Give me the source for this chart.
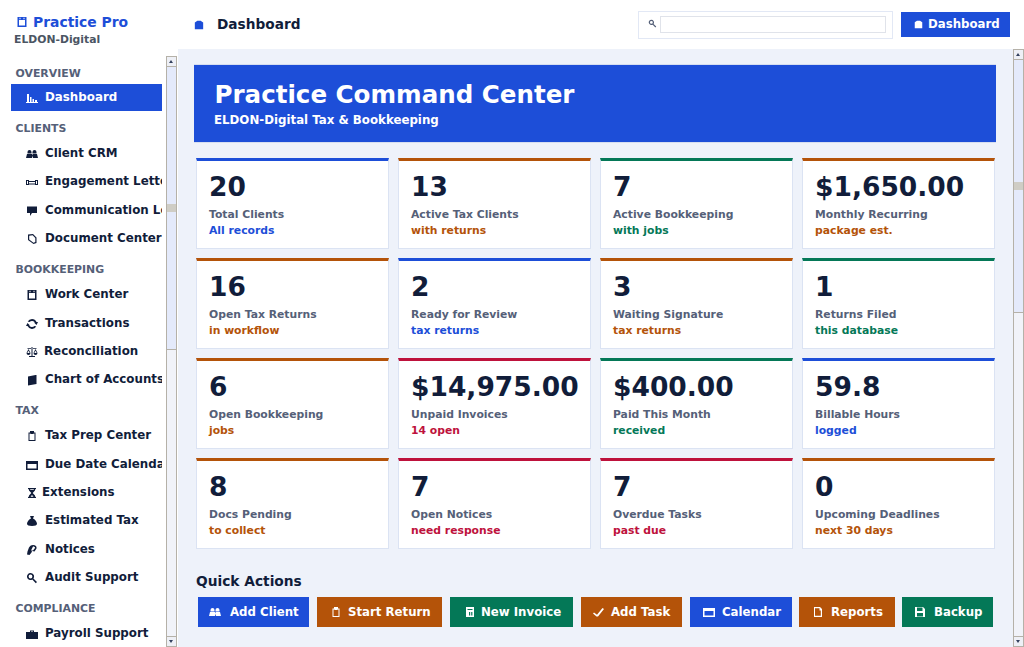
<!DOCTYPE html>
<html><head><meta charset="utf-8">
<script src="https://cdn.jsdelivr.net/npm/chart.js@4/dist/chart.umd.min.js"></script>
<style>
*{box-sizing:border-box}
html,body{margin:0;width:1024px;height:647px;overflow:hidden;background:#fff;font-family:"DejaVu Sans",sans-serif;font-weight:700;color:#111d3a}
.a{position:absolute}
svg{fill:currentColor;display:block}
#brand{left:33px;top:13px;font-size:13.9px;color:#1d4ed8;line-height:18px;white-space:nowrap}
#org{left:14px;top:33px;font-size:10.8px;color:#4b5563;line-height:14px}
#nav{left:0;top:66px;width:162px;height:581px;overflow:hidden}
.h{height:15px;line-height:15px;font-size:10.9px;color:#556078;padding-left:15.5px;margin:9.7px 0 3.15px}
.h:first-child{margin-top:0}
.i{position:relative;height:28.35px;line-height:29px;margin-left:11px;width:151px;font-size:11.85px;white-space:nowrap;overflow:hidden}
.i.on{background:#1d4ed8;color:#fff;height:27px;line-height:27px;margin-bottom:1.35px}
.i svg{position:absolute;left:14.5px;top:9px}
.i.on svg{top:8px}
#bg{left:178px;top:49px;width:846px;height:598px;background:#eef2fa}
#hero{left:194px;top:64px;width:802px;height:79px;background:#1d4ed8;color:#fff;border-top:1px solid #d6def0;border-bottom:1px solid #d6def0}
#hero h1{position:absolute;left:20.5px;top:15px;margin:0;font-size:24.55px;line-height:30px;white-space:nowrap}
#hero p{position:absolute;left:20px;top:47px;margin:0;font-size:11.8px;line-height:16px;white-space:nowrap}
.c{width:193px;height:91px;background:#fff;border:1px solid #dbe3f3;border-top:3.5px solid}
.c b{position:absolute;left:12px;top:10px;font-size:26.5px;line-height:32px;white-space:nowrap}
.c u{position:absolute;left:12px;top:46.5px;font-size:10.8px;line-height:14px;color:#556078;text-decoration:none;white-space:nowrap}
.c i{position:absolute;left:12px;top:62.5px;font-size:10.8px;line-height:14px;font-style:normal;white-space:nowrap}
.q{top:597px;height:30px;color:#fff}
.q em{position:absolute;top:0;font-style:normal;font-size:11.75px;line-height:31px;white-space:nowrap}
.q svg{position:absolute;top:9px}
.sb{background:#f1f3f9;border-left:1px solid #b5b1a8;border-right:1px solid #b5b1a8;width:11px}
.tb{left:0;width:9px;background:#e4eafb;border-bottom:1px solid #b5b1a8}
.btn{left:0;width:9px;height:11px;background:#eef0f6;border-top:1px solid #b5b1a8;border-bottom:1px solid #b5b1a8}
.btn:before{content:"";position:absolute;left:2px;top:3px;border-left:2.5px solid transparent;border-right:2.5px solid transparent;border-bottom:3px solid #33405e}
.btn.d:before{border-bottom:0;border-top:3px solid #33405e}
.th{left:0;width:9px;height:8px;background:#cfcdc5}
</style></head><body>
<div class="a" id="bg"></div>
<div class="a" id="brand" >Practice Pro</div>
<div class="a" id="org">ELDON-Digital</div>
<div class="a" id="nav"></div>
<div class="a sb" style="left:166px;top:56px;height:591px">
  <div class="a tb" style="top:0;height:294px"></div><div class="a btn" style="top:0"></div><div class="a th" style="top:148px"></div><div class="a btn d" style="top:580px"></div></div>
<div class="a sb" style="left:1013px;top:49px;height:598px">
  <div class="a tb" style="top:0;height:264px"></div><div class="a btn" style="top:0"></div><div class="a th" style="top:133px"></div><div class="a btn d" style="top:587px"></div></div>
<div class="a" id="topIcon" style="left:194px;top:20px;color:#1d4ed8"></div>
<div class="a" style="left:217px;top:15px;font-size:13.7px;line-height:18px">Dashboard</div>
<div class="a" style="left:638px;top:11px;width:255px;height:28px;border:1px solid #e2e8f5;background:#fff"></div>
<div class="a" id="searchIcon" style="left:648px;top:19px;color:#556078"></div>
<div class="a" style="left:660px;top:16px;width:226px;height:17px;border:1px solid #e0e3ea;background:#fff"></div>
<div class="a" style="left:901px;top:12px;width:109px;height:25px;background:#1d4ed8;color:#fff"><span class="a" id="btnIcon" style="left:13px;top:8px"></span><span class="a" style="left:27px;top:0;font-size:11.75px;line-height:25px;white-space:nowrap">Dashboard</span></div>
<div class="a" id="brandIcon" style="left:16px;top:16px;color:#1d4ed8"></div>
<div class="a" id="hero"><h1>Practice Command Center</h1><p>ELDON-Digital Tax &amp; Bookkeeping</p></div>
<div id="cards"></div>
<div class="a" style="left:196px;top:571.5px;font-size:13.75px;line-height:18px">Quick Actions</div>
<div id="quick"></div>
<script>
const navSections = ["OVERVIEW","CLIENTS","BOOKKEEPING","TAX","COMPLIANCE"];
const navItems = [
 [["chart","Dashboard"]],
 [["people","Client CRM"],["link","Engagement Letters"],["speech","Communication Log"],["doc","Document Center"]],
 [["book","Work Center"],["cycle","Transactions"],["scale","Reconciliation"],["books","Chart of Accounts"]],
 [["clip","Tax Prep Center"],["cal","Due Date Calendar"],["glass","Extensions"],["bag","Estimated Tax"],["note","Notices"],["mag","Audit Support"]],
 [["case","Payroll Support"]]
];
const cardValues = ["20","13","7","$1,650.00","16","2","3","1","6","$14,975.00","$400.00","59.8","8","7","7","0"];
const cardLabels = ["Total Clients","Active Tax Clients","Active Bookkeeping","Monthly Recurring","Open Tax Returns","Ready for Review","Waiting Signature","Returns Filed","Open Bookkeeping","Unpaid Invoices","Paid This Month","Billable Hours","Docs Pending","Open Notices","Overdue Tasks","Upcoming Deadlines"];
const cardNotes = ["All records","with returns","with jobs","package est.","in workflow","tax returns","tax returns","this database","jobs","14 open","received","logged","to collect","need response","past due","next 30 days"];
const cardTones = ["blue","orange","green","orange","orange","blue","orange","green","orange","red","green","blue","orange","red","red","orange"];
const quickIcons = ["people","clip","invoice","check","cal","report","disk"];
const quickLabels = ["Add Client","Start Return","New Invoice","Add Task","Calendar","Reports","Backup"];
const quickTones = ["blue","orange","green","orange","blue","orange","green"];
const quickLeft = [198,317,450,581,690,799,902];
const quickWidth = [111,125,123,101,102,96,91];
const quickIconX = [11,13,14,11,13,13,12];
const quickTextX = [32,31,31,30,32,32,32];
const tone = {blue:"#1d4ed8",orange:"#b45309",green:"#047857",red:"#be123c"};
const iconPaths = {
 chart:"M1 2h2v8H1zM4 5h1.500v5H4zM6.500 7H8v3H6.500zM9 8h2v2H9zM0 10h12v1H0z",
 people:"M3.500 2a2 2 0 0 1 2 2v1.500h-4V4a2 2 0 0 1 2-2zM8.500 2a2 2 0 0 1 2 2v1.500h-4V4a2 2 0 0 1 2-2zM0 10l1-4h5l1 4zM6 10l.7-4h4.300l1 4z",
 link:"M0 4h3v5H0zM1 5v3h1V5zM9 4h3v5H9zM10 5v3h1V5zM3 5h6v1H3zM3 7.500h6v1H3z",
 speech:"M1 1.500h10v6.500H6L4 11V8H1z",
 doc:"M2 1.500 7 1l3.500 3.500V10l-3 1L2 7zM3.200 2.700v3.800l4.300 3.200 1.800-.7V5L6.600 2.300z",
 book:"M1.500 1h9v10h-9zM3 4v5.500h6V4zM3.500 1.800v1.400h1V1.800zM7.500 1.800v1.400h1V1.800z",
 cycle:"M6 1a5 5 0 0 1 4.500 3H12L10.500 7 8 4.500h1A3.500 3.500 0 0 0 3.500 4L1.700 3.500A5 5 0 0 1 6 1zM1.500 5 4 7.500H3A3.500 3.500 0 0 0 8.500 8l1.800.5A5 5 0 0 1 1.500 8H0z",
 scale:"M5.500 1h1v9h-1zM1.500 2h9v.8h-9zM3 10h6v1H3zM2.500 3 4.500 7H3.700L2.500 4.800 1.300 7H.5zM9.500 3l2 4h-.8L9.500 4.800 8.300 7H7.500zM.5 7h4a2 2 0 0 1-4 0zM7.500 7h4a2 2 0 0 1-4 0z",
 books:"M2 2.500 9.500 1h1v9L2 11.500z",
 clip:"M4 1h4v1.500h1.500V11h-7V2.500H4zM3.500 3.500v6.500h5V3.500H7.500v.5h-3v-.5z",
 cal:"M0 2h12v9H0zM1.500 5v4.500h9V5z",
 glass:"M2 1h8v1.200H9v1.300L6.700 6 9 8.500v1.300h1V11H2V9.800h1V8.500L5.300 6 3 3.500V2.200H2zM4.200 2.200v.8h3.600v-.8zM4.500 9.800h3L6 8z",
 bag:"M4 1h4L7 3.500C9.500 4.800 11 7 11 8.800 11 10.500 9 11 6 11S1 10.500 1 8.800C1 7 2.500 4.800 5 3.500z",
 note:"M7 1c2.500 0 4 1.500 3.500 3.500L8.500 7.500 6 7 5.500 8.500 3.500 11 1 10.500 1.500 7.500 3 3.500C4 1.800 5.500 1 7 1zM7 2.500 5 6.500h2l2-2.500C9.300 3 8.200 2.500 7 2.500z",
 mag:"M4.500 1a3.500 3.500 0 0 1 2.900 5.500L11 10 9.800 11.200 6.300 7.500A3.500 3.500 0 1 1 4.500 1zM4.500 2.600a1.900 1.900 0 1 0 0 3.800 1.900 1.900 0 0 0 0-3.800z",
 case:"M4 2.500h4v1.500h4v7H0V4h4zM5 3.500V4h2v-.5z",
 home:"M4 1h4l3 2v8H1V3z",
 check:"M10.500 2 12 3 6 10.500 4.500 10.500 1 7.500 2 6.500 5 8.800z",
 invoice:"M2 1h8v10H2zM3.500 3v1h5V3zM5 6v3.500h1.200V6zM7.200 6v3.500h1.200V6z",
 report:"M2 1h6l2 2v8H2zM3 2.200v7.600h5.800V4.500H7.500V2.200z",
 disk:"M1 1h8l2 2v8H1zM3 1.500V5h5.500V1.500zM3 7v3.500h6V7z"
};
const icon=(n,c)=>`<svg width="12" height="12" viewBox="0 0 12 12" style="${c||""}"><path fill-rule="evenodd" d="${iconPaths[n]}"/></svg>`;

let n="";
navSections.forEach((s,k)=>{
  n+=`<div class="h">${s}</div>`;
  navItems[k].forEach(([ic,t])=>{
    const tx=ic==="glass"?31:ic==="scale"?33:34;
    n+=`<div class="i${t==="Dashboard"?" on":""}" style="padding-left:${tx}px">${icon(ic)}${t}</div>`;
  });
});
document.getElementById("nav").innerHTML=n;
document.getElementById("topIcon").innerHTML=icon("home","width:10px;height:10px");
document.getElementById("btnIcon").innerHTML=icon("home","width:9px;height:9px");
document.getElementById("searchIcon").innerHTML=icon("mag","width:9px;height:9px");
document.getElementById("brandIcon").innerHTML=icon("book");
let c="";
cardValues.forEach((v,k)=>{
  const x=196+202*(k%4), y=158+100*Math.floor(k/4), col=tone[cardTones[k]];
  c+=`<div class="a c" style="left:${x}px;top:${y}px;border-top-color:${col}"><b>${v}</b><u>${cardLabels[k]}</u><i style="color:${col}">${cardNotes[k]}</i></div>`;
});
document.getElementById("cards").innerHTML=c;
let q="";
quickLabels.forEach((t,k)=>{
  q+=`<div class="a q" style="left:${quickLeft[k]}px;width:${quickWidth[k]}px;background:${tone[quickTones[k]]}">${icon(quickIcons[k],"left:"+quickIconX[k]+"px")}<em style="left:${quickTextX[k]}px">${t}</em></div>`;
});
document.getElementById("quick").innerHTML=q;
</script>
</body></html>
